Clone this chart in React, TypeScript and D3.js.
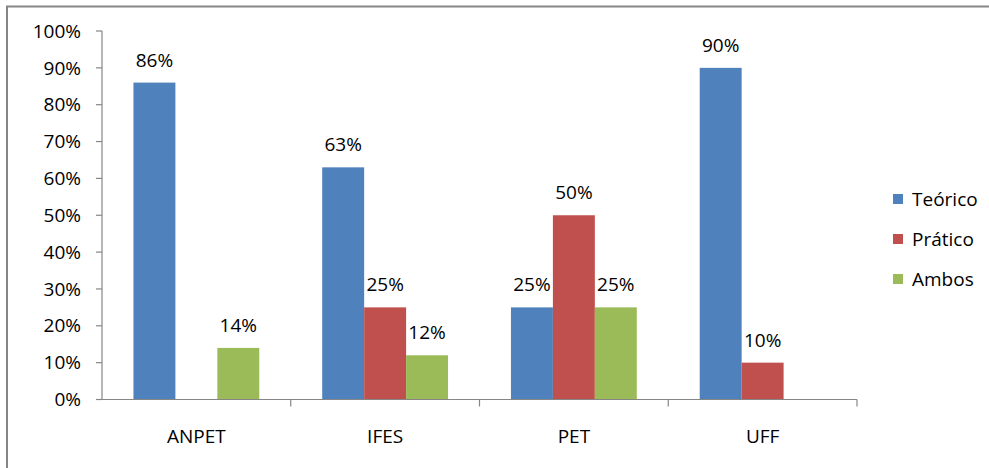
import { useEffect, useRef } from "react";
import * as d3 from "d3";

const categories = ["ANPET", "IFES", "PET", "UFF"];
const seriesNames = ["Teórico", "Prático", "Ambos"];
const teorico = [86, 63, 25, 90];
const pratico = [null, 25, 50, 10];
const ambos = [14, 12, 25, null];
const yTicks = [0, 10, 20, 30, 40, 50, 60, 70, 80, 90, 100];

const colors = ["#4F81BD", "#C0504D", "#9BBB59"];
const FONT = "'Open Sans', sans-serif";
const FS = 19;

export default function App() {
  const svgRef = useRef<SVGSVGElement>(null);

  useEffect(() => {
    if (!svgRef.current) return;
    const svg = d3.select(svgRef.current);
    svg.selectAll("*").remove();

    const width = 989;
    const height = 468;
    const left = 102, right = 857, top = 31, bottom = 399.5;

    // outer frame (right/bottom edges fall outside the picture)
    svg.append("rect")
      .attr("x", 7).attr("y", 6.5)
      .attr("width", width + 20).attr("height", height + 20)
      .attr("fill", "#fff").attr("stroke", "#868686").attr("stroke-width", 2);

    const x = d3.scaleBand<string>().domain(categories).range([left, right]).paddingInner(0).paddingOuter(0);
    const inner = d3.scaleBand<string>().domain(seriesNames).range([0, x.bandwidth()]).paddingOuter(0.75).paddingInner(0);
    const y = d3.scaleLinear().domain([0, 100]).range([bottom, top]);

    const series = [teorico, pratico, ambos];
    const rows = categories.flatMap((c, i) =>
      seriesNames.map((s, j) => ({ cat: c, name: s, idx: j, v: series[j][i] }))
    ).filter((d) => d.v !== null) as { cat: string; name: string; idx: number; v: number }[];

    const g = svg.append("g");

    g.selectAll("rect.bar").data(rows).enter().append("rect")
      .attr("class", "bar")
      .attr("x", (d) => x(d.cat)! + inner(d.name)!)
      .attr("width", inner.bandwidth())
      .attr("y", (d) => y(d.v))
      .attr("height", (d) => y(0) - y(d.v))
      .attr("fill", (d) => colors[d.idx]);

    g.selectAll("text.lbl").data(rows).enter().append("text")
      .attr("class", "lbl")
      .attr("x", (d) => x(d.cat)! + inner(d.name)! + inner.bandwidth() / 2)
      .attr("y", (d) => y(d.v) - 16)
      .attr("text-anchor", "middle")
      .attr("font-family", FONT).attr("font-size", FS).attr("fill", "#000")
      .text((d) => `${d.v}%`);

    // y axis
    const axisColor = "#868686";
    g.append("line").attr("x1", left).attr("x2", left).attr("y1", top).attr("y2", bottom)
      .attr("stroke", axisColor).attr("stroke-width", 1.2);
    yTicks.forEach((t) => {
      g.append("line").attr("x1", left - 6).attr("x2", left).attr("y1", y(t)).attr("y2", y(t))
        .attr("stroke", axisColor).attr("stroke-width", 1.2);
      g.append("text").attr("x", left - 21).attr("y", y(t)).attr("dy", "0.35em")
        .attr("text-anchor", "end").attr("font-family", FONT).attr("font-size", FS).attr("fill", "#000")
        .text(`${t}%`);
    });

    // x axis
    g.append("line").attr("x1", left - 6).attr("x2", right).attr("y1", bottom).attr("y2", bottom)
      .attr("stroke", axisColor).attr("stroke-width", 1.2);
    categories.forEach((c) => {
      const xe = x(c)! + x.bandwidth();
      g.append("line").attr("x1", xe).attr("x2", xe).attr("y1", bottom).attr("y2", bottom + 7)
        .attr("stroke", axisColor).attr("stroke-width", 1.2);
      g.append("text").attr("x", x(c)! + x.bandwidth() / 2).attr("y", 443)
        .attr("text-anchor", "middle").attr("font-family", FONT).attr("font-size", FS).attr("fill", "#000")
        .text(c);
    });

    // legend
    const lg = svg.append("g").attr("transform", "translate(893,199)");
    seriesNames.forEach((s, i) => {
      lg.append("rect").attr("x", 0).attr("y", i * 40 - 5).attr("width", 10).attr("height", 10).attr("fill", colors[i]);
      lg.append("text").attr("x", 19).attr("y", i * 40).attr("dy", "0.35em")
        .attr("font-family", FONT).attr("font-size", FS).attr("fill", "#000").text(s);
    });
  }, []);

  return (
    <svg ref={svgRef} width={989} height={468}
      style={{ position: "absolute", left: 0, top: 0, display: "block", background: "#fff" }} />
  );
}
